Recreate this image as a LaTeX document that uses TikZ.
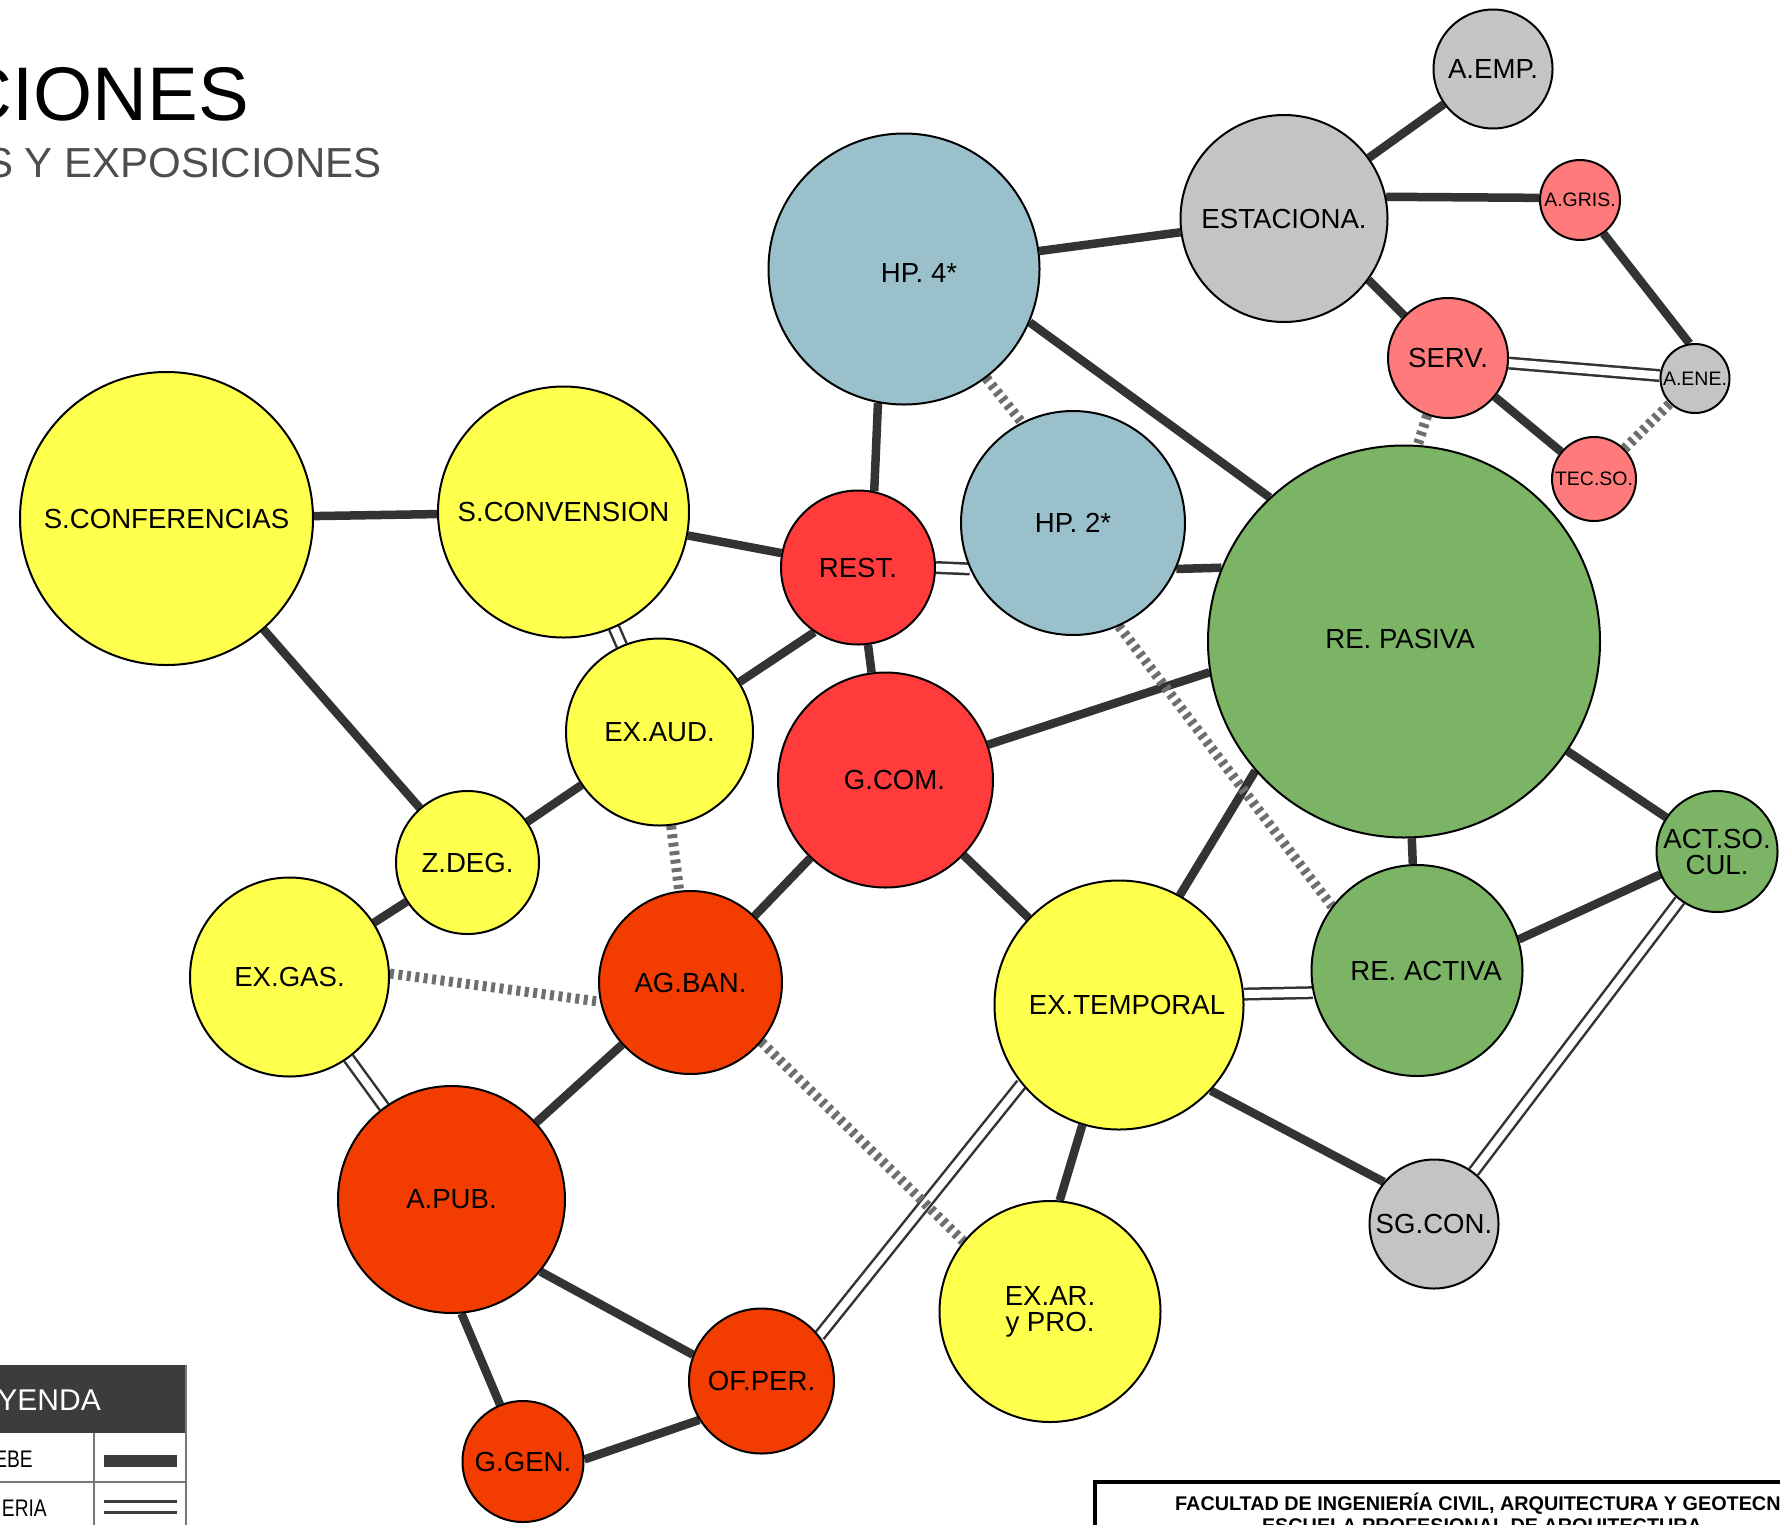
\documentclass[tikz,border=0pt]{standalone}
\usepackage{fontspec}
\setmainfont{Liberation Sans}
\usetikzlibrary{backgrounds}
\definecolor{cblue}{HTML}{9AC1CB}
\definecolor{cgray}{HTML}{C4C4C4}
\definecolor{cpink}{HTML}{FF7B7B}
\definecolor{cred}{HTML}{FF3B3B}
\definecolor{corange}{HTML}{F33D00}
\definecolor{cyellow}{HTML}{FFFF4D}
\definecolor{cgreen}{HTML}{7AB464}
\definecolor{cline}{HTML}{333333}
\definecolor{chatch}{HTML}{6E6E6E}
\definecolor{csub}{HTML}{4D4D4D}
\definecolor{cleg}{HTML}{3C3C3C}
\definecolor{cgrid}{HTML}{777777}
\begin{document}
\begin{tikzpicture}[x=1pt,y=-1pt,
  bub/.style={circle, draw=black, line width=2pt, inner sep=0pt, align=center,
    font=\fontsize{27.6}{26}\selectfont},
  small/.style={font=\fontsize{19.5}{19}\selectfont},
  lbl/.style={font=\fontsize{27.6}{26}\selectfont, align=center, inner sep=0pt},
  solidE/.style={draw=cline, line width=8.5pt},
  dblE/.style={draw=cline, line width=2.5pt, double=white, double distance=8pt},
  hatchE/.style={draw=chatch, line width=10pt, dash pattern=on 4pt off 4.5pt},
  txt/.style={inner sep=0pt}
]
\useasboundingbox (0,0) rectangle (1780,1524);

% ---------- nodes ----------
\node[bub, fill=cblue, minimum size=271pt, label={[lbl, xshift=15pt, yshift=-4pt]center:HP. 4*}] (hp4) at (904,269) {};
\node[bub, fill=cblue, minimum size=224pt] (hp2) at (1073,523) {HP. 2*};
\node[bub, fill=cgray, minimum size=207pt] (estaciona) at (1284,218.5) {ESTACIONA.};
\node[bub, fill=cgray, minimum size=119pt] (aemp) at (1493,69) {A.EMP.};
\node[bub, small, fill=cpink, minimum size=80pt] (agris) at (1580,200) {A.GRIS.};
\node[bub, fill=cpink, minimum size=120pt] (serv) at (1448,358) {SERV.};
\node[bub, small, fill=cgray, minimum size=69pt] (aene) at (1695,378.5) {A.ENE.};
\node[bub, small, fill=cpink, minimum size=84pt] (tecso) at (1594,479) {TEC.SO.};
\node[bub, fill=cgreen, minimum size=392pt, label={[lbl, xshift=-4pt, yshift=3pt]center:RE. PASIVA}] (repasiva) at (1404,641.5) {};
\node[bub, fill=cgreen, minimum size=211pt, label={[lbl, xshift=9pt]center:RE. ACTIVA}] (reactiva) at (1417,970.5) {};
\node[bub, fill=cgreen, minimum size=121pt] (actso) at (1717,851.5) {ACT.SO.\\CUL.};
\node[bub, fill=cgray, minimum size=129pt] (sgcon) at (1434,1224) {SG.CON.};
\node[bub, fill=cyellow, minimum size=249pt, label={[lbl, xshift=8pt]center:EX.TEMPORAL}] (extemp) at (1119,1005) {};
\node[bub, fill=cyellow, minimum size=221pt] (exar) at (1050,1311.5) {EX.AR.\\y PRO.};
\node[bub, fill=cred, minimum size=215pt, label={[lbl, xshift=9pt]center:G.COM.}] (gcom) at (885.5,780) {};
\node[bub, fill=cred, minimum size=154pt] (rest) at (858,567.5) {REST.};
\node[bub, fill=cyellow, minimum size=251pt] (sconv) at (563.5,512) {S.CONVENSION};
\node[bub, fill=cyellow, minimum size=293pt] (sconf) at (166.5,518.5) {S.CONFERENCIAS};
\node[bub, fill=cyellow, minimum size=187pt] (exaud) at (659.5,732) {EX.AUD.};
\node[bub, fill=cyellow, minimum size=143pt] (zdeg) at (467.5,862.5) {Z.DEG.};
\node[bub, fill=cyellow, minimum size=199pt] (exgas) at (289.5,977) {EX.GAS.};
\node[bub, fill=corange, minimum size=183pt] (agban) at (690.5,982.5) {AG.BAN.};
\node[bub, fill=corange, minimum size=227pt] (apub) at (451.5,1199.5) {A.PUB.};
\node[bub, fill=corange, minimum size=145pt] (ofper) at (761.5,1381) {OF.PER.};
\node[bub, fill=corange, minimum size=121pt] (ggen) at (523,1461.5) {G.GEN.};

% ---------- connectors ----------
\begin{scope}[on background layer]
\fill[white] (0,0) rectangle (1780,1524);
% solid
\draw[solidE] (hp4) -- (estaciona);
\draw[solidE] (estaciona) -- (aemp);
\draw[solidE] (estaciona.12) -- (agris.177);
\draw[solidE] (estaciona.-36) -- (serv.136);
\draw[solidE] (agris.-55) -- (aene.99);
\draw[solidE] (serv) -- (tecso);
\draw[solidE] (hp4.-101) -- (rest.78);
\draw[solidE] (hp4.-23) -- (repasiva.133);
\draw[solidE] (sconf) -- (sconv);
\draw[solidE] (sconv) -- (rest);
\draw[solidE] (sconf) -- (zdeg);
\draw[solidE] (rest.-124) -- (exaud.32);
\draw[solidE] (rest) -- (gcom);
\draw[solidE] (hp2.-24) -- (repasiva.158);
\draw[solidE] (gcom.19) -- (repasiva.189);
\draw[solidE] (exaud) -- (zdeg);
\draw[solidE] (zdeg) -- (exgas);
\draw[solidE] (gcom) -- (agban);
\draw[solidE] (gcom) -- (extemp);
\draw[solidE] (repasiva.-139) -- (extemp.61);
\draw[solidE] (repasiva) -- (reactiva);
\draw[solidE] (repasiva) -- (actso);
\draw[solidE] (reactiva.17) -- (actso.202);
\draw[solidE] (extemp.-107) -- (exar.85);
\draw[solidE] (extemp.-43) -- (sgcon.140);
\draw[solidE] (agban) -- (apub);
\draw[solidE] (apub.-39) -- (ofper.159);
\draw[solidE] (apub.-85) -- (ggen.112);
\draw[solidE] (ggen.2) -- (ofper.212);
% double
\draw[dblE] (serv) -- (aene);
\draw[dblE] (rest.0) -- (hp2.204);
\draw[dblE] (sconv) -- (exaud);
\draw[dblE] (exgas) -- (apub);
\draw[dblE] (extemp.5) -- (reactiva.192);
\draw[dblE] (extemp.-141) -- (ofper.38);
\draw[dblE] (actso) -- (sgcon);
% hatched
\draw[hatchE] (hp4.-53) -- (hp2.117);
\draw[hatchE] (serv.-110) -- (repasiva.86);
\draw[hatchE] (tecso) -- (aene);
\draw[hatchE] (exaud) -- (agban);
\draw[hatchE] (exgas.2) -- (agban.192);
\draw[hatchE] (hp2.-66) -- (reactiva.143);
\draw[hatchE] (agban.-40) -- (exar.141);
\end{scope}

% ---------- title ----------
\node[txt, anchor=base east, font=\fontsize{76}{76}\selectfont] (ttl) at (249,120) {CIONES};
\node[txt, anchor=base east, text=csub, font=\fontsize{42}{42}\selectfont] (sub) at (382,177) {S Y EXPOSICIONES};

% ---------- legend ----------
\fill[cleg] (-10,1365) rectangle (186,1433);
\node[txt, anchor=base east, text=white, font=\fontsize{30}{30}\selectfont] (legt) at (101,1410) {YENDA};
\draw[cgrid, line width=1.5pt] (-10,1482) -- (186,1482);
\draw[cgrid, line width=1.5pt] (94,1433) -- (94,1530);
\draw[cgrid, line width=1.5pt] (186,1365) -- (186,1530);
\node[txt, anchor=base east, font=\fontsize{24}{24}\selectfont] (leg1) at (33,1467) {\scalebox{0.8}[1]{EBE}};
\node[txt, anchor=base east, font=\fontsize{24}{24}\selectfont] (leg2) at (47,1516) {\scalebox{0.8}[1]{ERIA}};
\coordinate (s1a) at (104,1461);
\coordinate (s1b) at (177,1461);
\coordinate (s2a) at (104,1506.5);
\coordinate (s2b) at (177,1506.5);
\draw[draw=cleg, line width=12pt] (s1a) -- (s1b);
\draw[draw=cleg, line width=3pt, double=white, double distance=8pt] (s2a) -- (s2b);

% ---------- title block ----------
\draw[line width=3.5pt] (1095,1482) rectangle (1800,1580);
\node[txt, anchor=base west, font=\bfseries\fontsize{19.8}{19.8}\selectfont] (fac) at (1175,1510) {FACULTAD DE INGENIERÍA CIVIL, ARQUITECTURA Y GEOTECN};
\node[txt, anchor=base, font=\bfseries\fontsize{19.8}{19.8}\selectfont] (esc) at (1482,1532) {ESCUELA PROFESIONAL DE ARQUITECTURA};
\end{tikzpicture}
\end{document}
